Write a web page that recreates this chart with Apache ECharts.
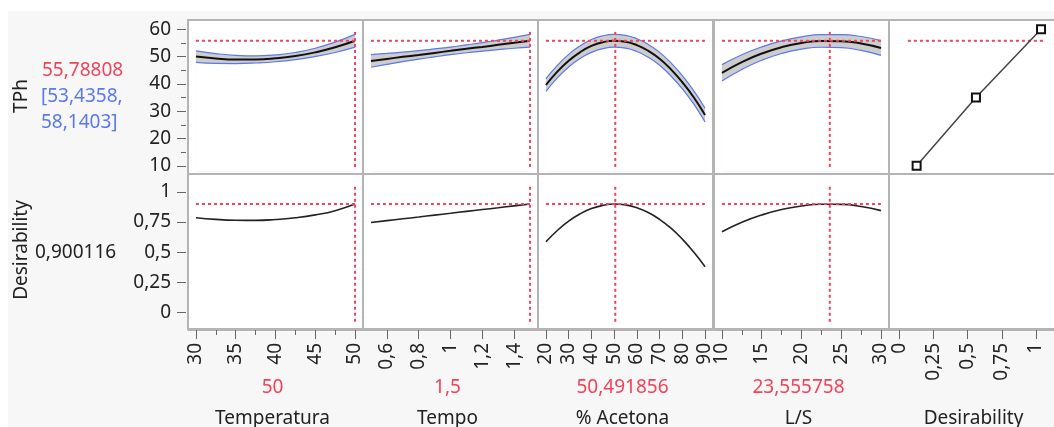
<!DOCTYPE html>
<html>
<head>
<meta charset="utf-8">
<style>
  html, body { margin: 0; height: 100%; background: #ffffff; }
  #panel { position: absolute; left: 8px; top: 11px; right: 0; bottom: 0; background: #f7f7f7; }
  #container { position: absolute; left: 0; top: 0; width: 1054px; height: 427px; }
</style>
<script src="https://cdn.jsdelivr.net/npm/echarts@6/dist/echarts.min.js"></script>
</head>
<body>
<div id="panel"></div>
<div id="container"></div>
<script type="text/javascript">

// factor names and current settings
var factorNames = ['Temperatura', 'Tempo', '% Acetona', 'L/S', 'Desirability'];
var currentText = ['50', '1,5', '50,491856', '23,555758', ''];
var currentX = [50, 1.5, 50.491856, 23.555758];
var currentTPh = 55.78808;
var currentCI = ['[53,4358,', '58,1403]'];
var currentD = 0.900116;

// profile traces (TPh, half width of the band, desirability)
var tempX = [30, 32.5, 35, 37.5, 40, 42.5, 45, 47.5, 50];
var tempTPh = [50.0, 49.3, 48.95, 48.95, 49.35, 50.2, 51.55, 53.4, 55.79];
var tempCI = [2.1, 1.8, 1.5, 1.3, 1.25, 1.3, 1.5, 1.9, 2.35];
var tempD = [0.786, 0.772, 0.765, 0.764, 0.771, 0.786, 0.810, 0.845, 0.900];

var tempoX = [0.5, 0.6, 0.7, 0.8, 0.9, 1.0, 1.1, 1.2, 1.3, 1.4, 1.5];
var tempoTPh = [48.4, 49.15, 49.9, 50.6, 51.35, 52.1, 52.85, 53.55, 54.3, 55.05, 55.79];
var tempoCI = [2.3, 2.0, 1.75, 1.55, 1.45, 1.4, 1.45, 1.55, 1.75, 2.0, 2.35];
var tempoD = [0.747, 0.762, 0.777, 0.792, 0.808, 0.823, 0.839, 0.854, 0.869, 0.885, 0.900];

var acetX = [20, 25, 30, 35, 40, 45, 50, 55, 60, 65, 70, 75, 80, 85, 90];
var acetTPh = [39.6, 44.5, 48.5, 51.6, 53.9, 55.27, 55.79, 55.44, 54.2, 52.1, 49.2, 45.3, 40.6, 35.1, 28.6];
var acetCI = [2.3, 2.3, 2.3, 2.3, 2.35, 2.35, 2.35, 2.35, 2.35, 2.35, 2.35, 2.4, 2.4, 2.45, 2.5];
var acetD = [0.586, 0.680, 0.758, 0.818, 0.862, 0.889, 0.900, 0.893, 0.869, 0.829, 0.772, 0.699, 0.608, 0.500, 0.378];

var lsX = [10, 12.5, 15, 17.5, 20, 22.5, 25, 27.5, 30];
var lsTPh = [44.05, 47.98, 51.11, 53.44, 54.98, 55.72, 55.66, 54.80, 53.14];
var lsCI = [3.0, 2.7, 2.45, 2.3, 2.25, 2.3, 2.4, 2.55, 2.7];
var lsD = [0.670, 0.749, 0.809, 0.854, 0.884, 0.898, 0.897, 0.880, 0.845];

// desirability function of TPh
var desX = [0.127, 0.561, 1.037];
var desTPh = [10, 35, 60];
var desRefX = [0.063, 1.058];

// tick labels
var xMajor = [[30, 35, 40, 45, 50], [0.6, 0.8, 1, 1.2, 1.4], [20, 30, 40, 50, 60, 70, 80, 90], [10, 15, 20, 25, 30], [0, 0.25, 0.5, 0.75, 1]];
var xMinor = [[32.5, 37.5, 42.5, 47.5], [], [], [12.5, 17.5, 22.5, 27.5], []];
var tphMajor = [10, 20, 30, 40, 50, 60];
var tphMinor = [15, 25, 35, 45, 55];
var dMajor = [0, 0.25, 0.5, 0.75, 1];

// layout
var colLeft = [188, 363, 538, 714, 889];
var colW = 175;
var rowTop = [20, 174];
var rowH = [154, 155];
var xRange = [[29, 51], [0.45, 1.55], [16.5, 93.5], [9, 31], [-0.075, 1.205]];
var yRange = [[7.0, 63.4], [-0.14, 1.15]];
var vRefY = [[9.6, 59.4], [-0.08, 1.06]];

var FONT = '"Noto Sans", "Open Sans", sans-serif';
var FS = 19;
var RED = '#f0445a';
var BLUE = '#5a78f0';
var TXT = '#222222';

function fmt(v) { return String(v).replace('.', ','); }
function pairs(xs, ys) { return xs.map(function (x, i) { return [x, ys[i]]; }); }
function shift(ys, hw, s) { return ys.map(function (y, i) { return y + s * hw[i]; }); }

var traces = [
  { x: tempX, t: tempTPh, ci: tempCI, d: tempD },
  { x: tempoX, t: tempoTPh, ci: tempoCI, d: tempoD },
  { x: acetX, t: acetTPh, ci: acetCI, d: acetD },
  { x: lsX, t: lsTPh, ci: lsCI, d: lsD }
];

var grids = [], xAxes = [], yAxes = [], series = [], graphics = [];
var r, c, gi;
for (r = 0; r < 2; r++) {
  for (c = 0; c < 5; c++) {
    gi = r * 5 + c;
    grids.push({
      left: colLeft[c], top: rowTop[r], width: colW, height: rowH[r],
      outerBoundsMode: 'none',
      show: true, backgroundColor: '#ffffff', borderColor: '#b4b4b4', borderWidth: 2
    });
    xAxes.push({
      gridIndex: gi, type: 'value', position: 'bottom', min: xRange[c][0], max: xRange[c][1], offset: 1,
      splitLine: { show: false },
      axisLine: { show: r === 1, onZero: false, lineStyle: { color: '#b4b4b4', width: 1 } },
      axisTick: { show: r === 1, customValues: xMajor[c], length: 9, lineStyle: { color: '#666' } },
      axisLabel: { show: r === 1, customValues: xMajor[c], rotate: 90, margin: 13, fontSize: FS,
        color: TXT, fontFamily: FONT, formatter: fmt }
    });
    yAxes.push({
      gridIndex: gi, type: 'value', position: 'left', min: yRange[r][0], max: yRange[r][1], offset: 2,
      splitLine: { show: false },
      axisLine: { show: false, onZero: false },
      axisTick: { show: c === 0, customValues: r === 0 ? tphMajor : dMajor, length: 9, lineStyle: { color: '#666' } },
      axisLabel: { show: c === 0, customValues: r === 0 ? tphMajor : dMajor, margin: 15, fontSize: FS,
        color: TXT, fontFamily: FONT, formatter: fmt }
    });
  }
}
// minor ticks
for (c = 0; c < 5; c++) {
  if (!xMinor[c].length) continue;
  xAxes.push({
    gridIndex: 5 + c, type: 'value', position: 'bottom', min: xRange[c][0], max: xRange[c][1], offset: 1,
    splitLine: { show: false }, axisLine: { show: false, onZero: false },
    axisTick: { show: true, customValues: xMinor[c], length: 5, lineStyle: { color: '#666' } },
    axisLabel: { show: false }
  });
}
yAxes.push({
  gridIndex: 0, type: 'value', position: 'left', min: yRange[0][0], max: yRange[0][1], offset: 2,
  splitLine: { show: false }, axisLine: { show: false, onZero: false },
  axisTick: { show: true, customValues: tphMinor, length: 5, lineStyle: { color: '#666' } },
  axisLabel: { show: false }
});

function dashed(idx, data) {
  return {
    type: 'line', xAxisIndex: idx, yAxisIndex: idx, data: data, symbol: 'none', silent: true, z: 8,
    lineStyle: { color: RED, width: 2, type: [3, 3] }
  };
}

traces.forEach(function (tr, c) {
  var last = tr.x.length - 1;
  series.push({
    type: 'line', xAxisIndex: c, yAxisIndex: c, data: pairs(tr.x, shift(tr.t, tr.ci, 1)),
    smooth: true, symbol: 'none', silent: true, z: 2,
    lineStyle: { color: BLUE, width: 1.2 },
    areaStyle: { color: '#cdcdcd', opacity: 1, origin: 8 }
  });
  series.push({
    type: 'line', xAxisIndex: c, yAxisIndex: c, data: pairs(tr.x, shift(tr.t, tr.ci, -1)),
    smooth: true, symbol: 'none', silent: true, z: 3,
    lineStyle: { color: BLUE, width: 1.2 },
    areaStyle: { color: '#ffffff', opacity: 1, origin: 8 }
  });
  series.push({
    type: 'line', xAxisIndex: c, yAxisIndex: c, data: pairs(tr.x, tr.t),
    smooth: true, symbol: 'none', silent: true, z: 5,
    lineStyle: { color: '#111', width: 2 }
  });
  series.push({
    type: 'line', xAxisIndex: 5 + c, yAxisIndex: 5 + c, data: pairs(tr.x, tr.d),
    smooth: true, symbol: 'none', silent: true, z: 5,
    lineStyle: { color: '#222', width: 1.6 }
  });
  series.push(dashed(c, [[tr.x[0], currentTPh], [tr.x[last], currentTPh]]));
  series.push(dashed(c, [[currentX[c], vRefY[0][0]], [currentX[c], vRefY[0][1]]]));
  series.push(dashed(5 + c, [[tr.x[0], currentD], [tr.x[last], currentD]]));
  series.push(dashed(5 + c, [[currentX[c], vRefY[1][0]], [currentX[c], vRefY[1][1]]]));
});

series.push(dashed(4, [[desRefX[0], currentTPh], [desRefX[1], currentTPh]]));
series.push({
  type: 'line', xAxisIndex: 4, yAxisIndex: 4, data: pairs(desX, desTPh), silent: true, z: 9,
  symbol: 'rect', symbolSize: 8,
  itemStyle: { color: '#ffffff', borderColor: '#111', borderWidth: 2 },
  lineStyle: { color: '#444', width: 1.5 }
});

// texts
function txt(t, x, y, fill, align, rot) {
  return {
    type: 'text', x: x, y: y, rotation: rot || 0, silent: true,
    style: { text: t, fill: fill, font: FS + 'px ' + FONT, textAlign: align || 'center', textVerticalAlign: 'middle' }
  };
}
for (c = 0; c < 5; c++) {
  var cx = colLeft[c] + colW / 2 - 3;
  graphics.push(txt(currentText[c], cx, 388, RED));
  graphics.push(txt(factorNames[c], cx, 419, TXT));
}
graphics.push(txt('TPh', 22, 96, TXT, 'center', Math.PI / 2));
graphics.push(txt('Desirability', 22, 250, TXT, 'center', Math.PI / 2));
graphics.push(txt(String(currentTPh).replace('.', ','), 42, 71, RED, 'left'));
graphics.push(txt(currentCI[0], 41, 97, BLUE, 'left'));
graphics.push(txt(currentCI[1], 41, 123, BLUE, 'left'));
graphics.push(txt(String(currentD).replace('.', ','), 35, 253, TXT, 'left'));

var dom = document.getElementById('container');
var myChart = echarts.init(dom);
myChart.setOption({
  animation: false,
  grid: grids,
  xAxis: xAxes,
  yAxis: yAxes,
  series: series,
  graphic: graphics
});
</script>
</body>
</html>
